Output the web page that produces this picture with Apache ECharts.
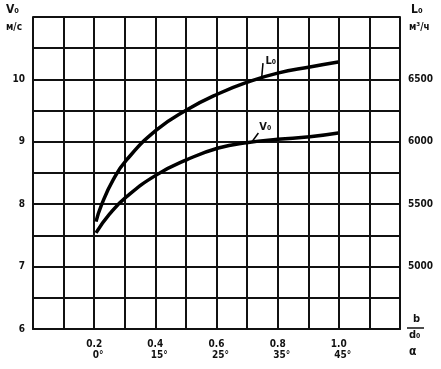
<!DOCTYPE html>
<html><head><meta charset="utf-8">
<script src="https://cdn.jsdelivr.net/npm/echarts@6/dist/echarts.min.js"></script>
<style>html,body{margin:0;padding:0;background:#fff}#c{width:441px;height:369px}</style>
</head><body><div id="c"></div>
<script>
// b/d0 ratio values
const xTickLabels = {"0.2":"0°","0.4":"15°","0.6":"25°","0.8":"35°","1.0":"45°"};
const leftTicks = [6,7,8,9,10];
const rightTicks = [5000,5500,6000,6500];

const L0_x = [0.206,0.224,0.262,0.306,0.404,0.502,0.606,0.704,0.80,0.905,0.998];
const L0_y = [5360,5495,5695,5855,6095,6255,6385,6480,6550,6600,6640];

const V0_x = [0.206,0.25,0.306,0.404,0.502,0.606,0.704,0.80,0.905,0.998];
const V0_y = [7.54,7.84,8.12,8.47,8.71,8.90,8.99,9.04,9.08,9.14];

const FONT = "DejaVu Sans Condensed";
const chart = echarts.init(document.getElementById('c'));
const zip = (a,b)=>a.map((v,i)=>[v,b[i]]);
const lbl = (t)=>({show:true,formatter:t,position:'right',offset:[-7,0],color:'#111',fontFamily:FONT,fontWeight:'bold',fontSize:11});
chart.setOption({
  animation:false,
  backgroundColor:'#fff',
  grid:{left:33,right:41,top:17,bottom:40},
  xAxis:{type:'value',min:0,max:1.2,interval:0.1,
    axisLine:{show:true,lineStyle:{color:'#111',width:2}},
    axisTick:{show:false},
    splitLine:{show:true,lineStyle:{color:'#111',width:2}},
    axisLabel:{margin:10,color:'#111',fontFamily:FONT,fontWeight:'bold',fontSize:10,lineHeight:11,
      formatter:v=>{const k=v.toFixed(1);return xTickLabels[k]!==undefined?'{a|'+k+'}\n{b|'+xTickLabels[k]+'}':'';},
      rich:{a:{fontFamily:FONT,fontWeight:'bold',fontSize:10,color:'#111'},
            b:{fontFamily:FONT,fontWeight:'bold',fontSize:10,color:'#111',padding:[0,0,0,8]}}}
  },
  yAxis:[{type:'value',min:6,max:11,interval:0.5,
    axisLine:{show:true,lineStyle:{color:'#111',width:2}},
    axisTick:{show:false},
    splitLine:{show:true,lineStyle:{color:'#111',width:2}},
    axisLabel:{margin:8,color:'#111',fontFamily:FONT,fontWeight:'bold',fontSize:10,
      formatter:v=>leftTicks.includes(v)?String(v):''}
  },{type:'value',min:4500,max:7000,interval:250,position:'right',
    axisLine:{show:true,lineStyle:{color:'#111',width:2}},
    axisTick:{show:false},splitLine:{show:false},
    axisLabel:{margin:8,color:'#111',fontFamily:FONT,fontWeight:'bold',fontSize:10,
      formatter:v=>rightTicks.includes(v)?String(v):''}
  }],
  series:[
    {type:'line',name:'L0',yAxisIndex:1,smooth:0.5,showSymbol:false,
     lineStyle:{color:'#000',width:3.5},data:zip(L0_x,L0_y),
     markLine:{silent:true,symbol:'none',lineStyle:{color:'#000',width:1.5,type:'solid'},label:{show:false},
       data:[[{coord:[0.748,6520]},{coord:[0.752,6630]}]]},
     markPoint:{symbol:'circle',symbolSize:1,itemStyle:{color:'rgba(0,0,0,0)'},
       data:[{coord:[0.765,6650],label:lbl('L₀')}]}
    },
    {type:'line',name:'V0',yAxisIndex:0,smooth:0.5,showSymbol:false,
     lineStyle:{color:'#000',width:3.5},data:zip(V0_x,V0_y),
     markLine:{silent:true,symbol:'none',lineStyle:{color:'#000',width:1.5,type:'solid'},label:{show:false},
       data:[[{coord:[0.716,9.0]},{coord:[0.737,9.14]}]]},
     markPoint:{symbol:'circle',symbolSize:1,itemStyle:{color:'rgba(0,0,0,0)'},
       data:[{coord:[0.745,9.24],label:lbl('V₀')}]}
    }
  ],
  graphic:[
    {type:'text',left:6,top:4,style:{text:'V₀',font:'bold 12px "DejaVu Sans Condensed"',fill:'#111'}},
    {type:'text',left:6,top:22,style:{text:'м/с',font:'bold 10px "DejaVu Sans Condensed"',fill:'#111'}},
    {type:'text',left:411,top:4,style:{text:'L₀',font:'bold 12px "DejaVu Sans Condensed"',fill:'#111'}},
    {type:'text',left:409,top:22,style:{text:'м³/ч',font:'bold 10px "DejaVu Sans Condensed"',fill:'#111'}},
    {type:'text',left:413,top:314,style:{text:'b',font:'bold 11px "DejaVu Sans Condensed"',fill:'#111'}},
    {type:'line',shape:{x1:407,y1:328,x2:424,y2:328},style:{stroke:'#111',lineWidth:1.5}},
    {type:'text',left:409,top:330,style:{text:'d₀',font:'bold 11px "DejaVu Sans Condensed"',fill:'#111'}},
    {type:'text',left:409,top:346,style:{text:'α',font:'bold 12px "DejaVu Sans Condensed"',fill:'#111'}}
  ]
});
</script></body></html>
